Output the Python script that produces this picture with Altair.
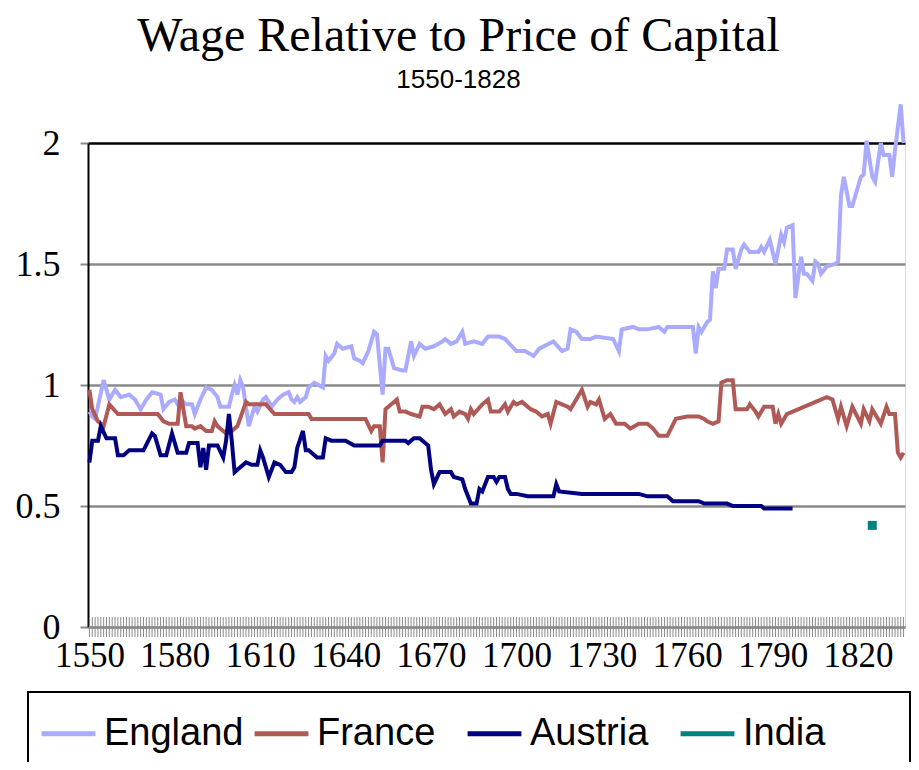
import altair as alt
import pandas as pd

# ---------------- data ----------------
countries = ["England", "France", "Austria", "India"]
colors = ["#AAAAFF", "#B05A58", "#000080", "#008080"]

eng_years = [1550, 1551, 1552, 1555, 1557, 1559, 1561, 1564, 1566, 1568, 1570, 1572, 1575, 1576,
             1578, 1580, 1581, 1582, 1584, 1586, 1587, 1589, 1591, 1593, 1595, 1596, 1599, 1600,
             1601, 1602, 1603, 1604, 1606, 1608, 1609, 1611, 1612, 1614, 1616, 1618, 1620, 1621,
             1622, 1623, 1624, 1626, 1627, 1629, 1632, 1633, 1634, 1636, 1637, 1639, 1642, 1643,
             1645, 1646, 1648, 1650, 1651, 1653, 1654, 1655, 1657, 1660, 1661, 1663, 1664, 1666,
             1668, 1671, 1674, 1675, 1677, 1679, 1681, 1682, 1685, 1688, 1690, 1694, 1696, 1700,
             1703, 1706, 1708, 1713, 1716, 1718, 1719, 1721, 1723, 1726, 1728, 1734, 1736, 1737,
             1741, 1743, 1746, 1750, 1752, 1753, 1762, 1763, 1764, 1765, 1767, 1768, 1769, 1770,
             1771, 1773, 1774, 1776, 1777, 1779, 1780, 1782, 1785, 1786, 1787, 1789, 1791, 1793,
             1794, 1795, 1797, 1798, 1800, 1801, 1802, 1804, 1805, 1806, 1807, 1809, 1812, 1813,
             1814, 1815, 1817, 1818, 1820, 1821, 1822, 1823, 1825, 1826, 1828, 1829, 1831, 1832,
             1833, 1835, 1836]
eng_values = [0.89, 0.87, 0.86, 1.02, 0.94, 0.98, 0.95, 0.96, 0.94, 0.90, 0.94, 0.97, 0.96, 0.90,
              0.93, 0.94, 0.92, 0.94, 0.92, 0.92, 0.88, 0.94, 0.99, 0.98, 0.95, 0.91, 0.91, 0.96,
              1.00, 0.96, 1.02, 0.99, 0.83, 0.91, 0.89, 0.94, 0.95, 0.91, 0.94, 0.96, 0.97, 0.94,
              0.93, 0.95, 0.93, 0.95, 0.99, 1.01, 0.99, 1.12, 1.10, 1.13, 1.17, 1.15, 1.16, 1.11,
              1.10, 1.09, 1.14, 1.22, 1.21, 0.96, 1.15, 1.15, 1.07, 1.06, 1.06, 1.18, 1.12, 1.17,
              1.15, 1.16, 1.18, 1.19, 1.17, 1.18, 1.22, 1.17, 1.18, 1.17, 1.20, 1.20, 1.19, 1.14,
              1.14, 1.12, 1.15, 1.18, 1.14, 1.15, 1.23, 1.22, 1.19, 1.19, 1.20, 1.19, 1.14, 1.23,
              1.24, 1.23, 1.23, 1.24, 1.22, 1.24, 1.24, 1.13, 1.24, 1.22, 1.26, 1.27, 1.47, 1.40,
              1.48, 1.48, 1.56, 1.56, 1.48, 1.56, 1.58, 1.55, 1.55, 1.57, 1.55, 1.60, 1.50, 1.62,
              1.59, 1.65, 1.66, 1.36, 1.53, 1.46, 1.46, 1.43, 1.51, 1.50, 1.46, 1.49, 1.50, 1.51,
              1.78, 1.86, 1.74, 1.74, 1.82, 1.86, 1.87, 2.01, 1.86, 1.84, 2.00, 1.95, 1.95, 1.86,
              1.97, 2.16, 2.00]

fra_years = [1550, 1551, 1553, 1555, 1557, 1560, 1574, 1576, 1578, 1581, 1582, 1584, 1586, 1587,
             1589, 1591, 1593, 1594, 1595, 1598, 1600, 1602, 1605, 1606, 1612, 1615, 1627, 1628,
             1647, 1649, 1650, 1652, 1653, 1654, 1655, 1658, 1659, 1661, 1663, 1666, 1667, 1669,
             1671, 1673, 1675, 1677, 1678, 1680, 1682, 1683, 1684, 1685, 1688, 1690, 1691, 1694,
             1696, 1697, 1699, 1700, 1702, 1705, 1707, 1709, 1711, 1712, 1714, 1716, 1718, 1719,
             1721, 1723, 1725, 1726, 1728, 1729, 1731, 1733, 1735, 1738, 1740, 1743, 1746, 1748,
             1750, 1753, 1756, 1760, 1764, 1766, 1767, 1769, 1771, 1772, 1774, 1776, 1777, 1781,
             1782, 1784, 1785, 1787, 1790, 1791, 1792, 1793, 1795, 1809, 1811, 1813, 1814, 1816,
             1818, 1821, 1822, 1824, 1825, 1828, 1830, 1831, 1833, 1834, 1835, 1836]
fra_values = [0.98, 0.90, 0.85, 0.83, 0.92, 0.88, 0.88, 0.85, 0.84, 0.84, 0.97, 0.83, 0.83, 0.82,
              0.83, 0.81, 0.81, 0.85, 0.83, 0.80, 0.81, 0.83, 0.93, 0.92, 0.92, 0.88, 0.88, 0.86,
              0.86, 0.81, 0.83, 0.83, 0.68, 0.90, 0.91, 0.94, 0.89, 0.89, 0.88, 0.87, 0.91, 0.91,
              0.90, 0.92, 0.88, 0.90, 0.87, 0.89, 0.88, 0.86, 0.90, 0.88, 0.92, 0.94, 0.89, 0.89,
              0.92, 0.89, 0.93, 0.92, 0.93, 0.90, 0.89, 0.87, 0.88, 0.84, 0.93, 0.92, 0.91, 0.90,
              0.94, 0.98, 0.91, 0.93, 0.92, 0.94, 0.86, 0.88, 0.84, 0.84, 0.82, 0.84, 0.84, 0.82,
              0.79, 0.79, 0.86, 0.87, 0.87, 0.86, 0.85, 0.84, 0.85, 1.01, 1.02, 1.02, 0.90, 0.90,
              0.92, 0.89, 0.87, 0.91, 0.91, 0.84, 0.88, 0.84, 0.88, 0.95, 0.94, 0.86, 0.91, 0.83,
              0.91, 0.84, 0.90, 0.85, 0.90, 0.84, 0.91, 0.88, 0.88, 0.72, 0.70, 0.72]

aut_years = [1550, 1551, 1553, 1554, 1556, 1559, 1560, 1562, 1564, 1569, 1572, 1573, 1575, 1577,
             1579, 1581, 1584, 1585, 1588, 1589, 1590, 1591, 1592, 1595, 1597, 1598, 1599, 1600,
             1601, 1603, 1605, 1607, 1609, 1610, 1611, 1613, 1615, 1617, 1619, 1621, 1622, 1623,
             1625, 1626, 1627, 1630, 1632, 1633, 1635, 1640, 1643, 1652, 1653, 1659, 1661, 1662,
             1664, 1666, 1667, 1669, 1670, 1671, 1673, 1677, 1678, 1681, 1682, 1684, 1686, 1687,
             1688, 1690, 1692, 1693, 1694, 1696, 1697, 1698, 1700, 1704, 1713, 1714, 1715, 1723,
             1724, 1743, 1746, 1753, 1755, 1764, 1766, 1774, 1776, 1786, 1787, 1797]
aut_values = [0.68, 0.77, 0.77, 0.83, 0.78, 0.78, 0.71, 0.71, 0.73, 0.73, 0.80, 0.79, 0.71, 0.71,
              0.80, 0.72, 0.72, 0.76, 0.76, 0.66, 0.74, 0.65, 0.75, 0.75, 0.70, 0.77, 0.88, 0.77,
              0.64, 0.66, 0.68, 0.67, 0.67, 0.73, 0.70, 0.62, 0.68, 0.67, 0.64, 0.64, 0.66, 0.74,
              0.81, 0.73, 0.73, 0.70, 0.70, 0.78, 0.77, 0.77, 0.75, 0.75, 0.77, 0.77, 0.77, 0.76,
              0.78, 0.78, 0.77, 0.75, 0.65, 0.59, 0.64, 0.64, 0.62, 0.61, 0.57, 0.51, 0.51, 0.57,
              0.56, 0.62, 0.62, 0.60, 0.62, 0.62, 0.57, 0.55, 0.55, 0.54, 0.54, 0.59, 0.56, 0.55,
              0.55, 0.55, 0.54, 0.54, 0.52, 0.52, 0.51, 0.51, 0.50, 0.50, 0.49, 0.49]

ind_years = [1825]
ind_values = [0.42]

tick_years = list(range(1550, 1837))           # one category tick per year
label_years = [1550, 1580, 1610, 1640, 1670, 1700, 1730, 1760, 1790, 1820]
y_ticks = [0, 0.5, 1, 1.5, 2]

# ---------------- tables ----------------
lines_df = pd.concat([
    pd.DataFrame({"country": "England", "year": eng_years, "value": eng_values}),
    pd.DataFrame({"country": "France", "year": fra_years, "value": fra_values}),
    pd.DataFrame({"country": "Austria", "year": aut_years, "value": aut_values}),
], ignore_index=True)
india_df = pd.DataFrame({"country": "India", "year": ind_years, "value": ind_values})
ticks_df = pd.DataFrame({"year": tick_years})

W, H = 817, 484

x_scale = alt.Scale(domain=[1549.5, 1836.5], nice=False, zero=False)
y_scale = alt.Scale(domain=[0, 2], nice=False)
color_scale = alt.Scale(domain=countries, range=colors)

x_axis = alt.Axis(values=label_years, format="d", ticks=False, tickSize=0, grid=False,
                  labelFont="Liberation Serif", labelFontSize=35, labelColor="black",
                  labelPadding=11, labelFlush=False, labelOverlap=False,
                  domainColor="#8a8a8a", domainWidth=2, zindex=1, title=None)
y_axis = alt.Axis(values=y_ticks, format=".1~f", grid=True,
                  gridColor={"condition": {"test": "datum.value == 2", "value": "black"},
                             "value": "#8a8a8a"},
                  gridWidth=2.5,
                  tickColor="#8a8a8a", tickWidth=2, tickSize=8,
                  domainColor="black", domainWidth=2,
                  labelFont="Liberation Serif", labelFontSize=36, labelColor="black",
                  labelPadding=20, title=None)

band = alt.Chart(ticks_df).mark_rule(color="#8a8a8a", strokeWidth=1).encode(
    x=alt.X("year:Q", scale=x_scale, axis=x_axis),
    y=alt.value(H - 10),
    y2=alt.value(H + 10),
)

lines = alt.Chart(lines_df).mark_line(strokeWidth=4).encode(
    x=alt.X("year:Q", scale=x_scale),
    y=alt.Y("value:Q", scale=y_scale, axis=y_axis),
    color=alt.Color("country:N", scale=color_scale, sort=countries,
                    legend=alt.Legend(orient="none", legendX=-49, legendY=561,
                                      direction="horizontal", columns=4,
                                      gridAlign="all", columnPadding=0,
                                      symbolType="stroke", symbolSize=2900,
                                      symbolStrokeWidth=5, labelOffset=6,
                                      labelFont="Liberation Sans", labelFontSize=38,
                                      labelColor="black", labelLimit=400, title=None)),
    detail="country:N",
)

india = alt.Chart(india_df).mark_square(size=81, opacity=1, filled=True).encode(
    x=alt.X("year:Q", scale=x_scale),
    y=alt.Y("value:Q", scale=y_scale),
    color=alt.Color("country:N", scale=color_scale, sort=countries),
)

box_df = pd.DataFrame({"k": [0]})
legend_box = alt.Chart(box_df).mark_rect(fill=None, fillOpacity=0, stroke="black",
                                          strokeWidth=2).encode(
    x=alt.value(-60), x2=alt.value(822), y=alt.value(549), y2=alt.value(760),
)

chart = alt.layer(band, lines, india, legend_box).properties(
    width=W, height=H,
    title=alt.TitleParams(
        text="Wage Relative to Price of Capital",
        subtitle="1550-1828",
        font="Liberation Serif", fontSize=48, fontWeight="normal", color="black",
        subtitleFont="Liberation Sans", subtitleFontSize=26, subtitleColor="black",
        subtitlePadding=6, anchor="middle", offset=3, dx=-38,
    ),
    autosize=alt.AutoSizeParams(type="none"),
    padding={"left": 80, "top": 135, "right": 6, "bottom": 135},
).configure_view(stroke="black", strokeWidth=2).configure(background="white")

chart.save("out.html", embed_options={"renderer": "svg", "actions": False})
